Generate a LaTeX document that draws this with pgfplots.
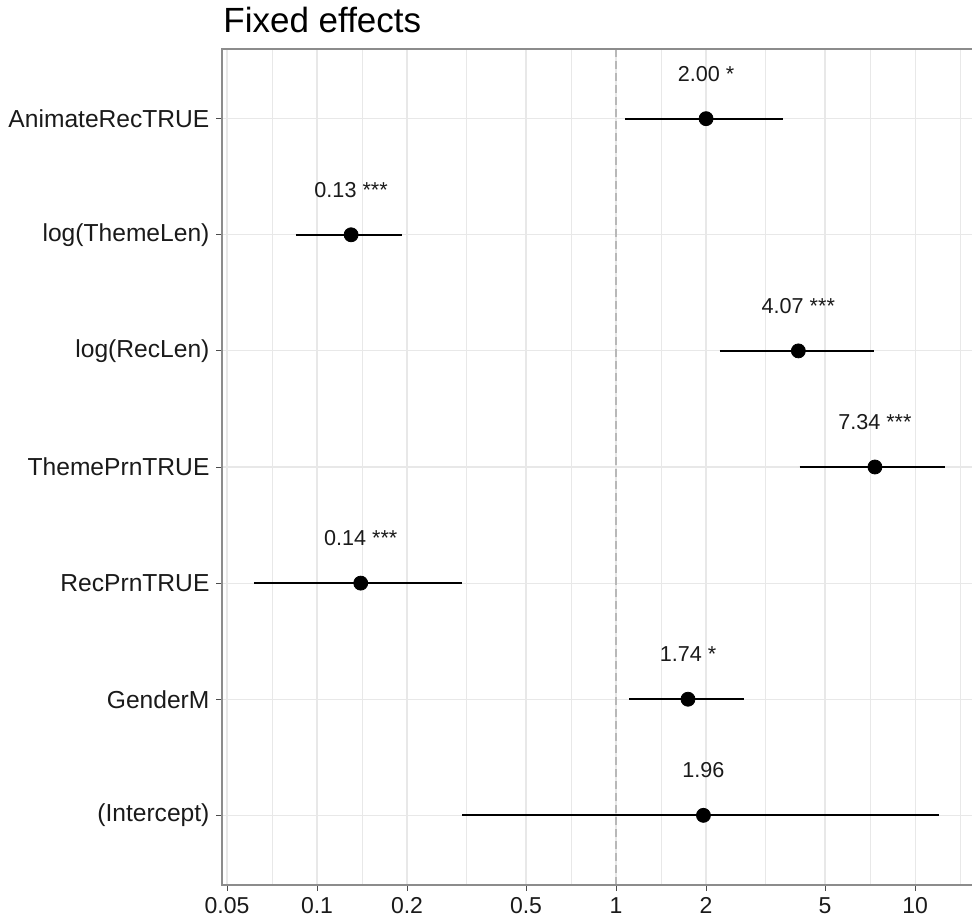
\documentclass[border=0pt]{standalone}
\usepackage{fontspec}
\setmainfont{Liberation Sans}
\usepackage{pgfplots}
\pgfplotsset{compat=1.18}
\definecolor{gridc}{HTML}{E8E8E8}
\definecolor{framec}{HTML}{8C8C8C}
\definecolor{refc}{HTML}{B8B8B8}
\definecolor{txt}{HTML}{1A1A1A}

\begin{document}
\begin{tikzpicture}
\useasboundingbox (-111pt,-18.5pt) rectangle (375pt,442.5pt);
\begin{axis}[
  at={(0,0)}, anchor=south west,
  scale only axis, width=375pt, height=418pt,
  xmode=log, xmin=0.0481, xmax=15.5,
  ymin=0.4, ymax=7.6,
  xtick={0.05,0.1,0.2,0.5,1,2,5,10},
  xticklabels={0.05,0.1,0.2,0.5,1,2,5,10},
  minor xtick={0.0707,0.1414,0.3162,0.7071,1.4142,3.1623,7.0711,14.142},
  ytick={1,2,3,4,5,6,7},
  yticklabels={(Intercept),GenderM,RecPrnTRUE,ThemePrnTRUE,log(RecLen),log(ThemeLen),AnimateRecTRUE},
  xtick pos=bottom, ytick pos=left,
  grid=both,
  major grid style={gridc, line width=0.6pt},
  minor grid style={gridc, line width=0.3pt},
  tick align=outside, major tick length=2.75pt, minor tick length=0pt,
  tick style={black!70, line width=0.5pt},
  axis line style={draw=none},
  xticklabel style={font=\fontsize{11.5}{13}\selectfont, text=txt},
  yticklabel style={font=\fontsize{12.3}{14}\selectfont, text=txt},
  /pgf/number format/assume math mode=true,
  clip=false,
]
% reference line at 1
\addplot[refc, line width=0.6pt, dash pattern=on 4pt off 2pt] coordinates {(1,0.4) (1,7.6)};

% confidence intervals
\addplot[black, line width=0.9pt] coordinates {(1.072,7) (3.63,7)};
\addplot[black, line width=0.9pt] coordinates {(0.085,6) (0.193,6)};
\addplot[black, line width=0.9pt] coordinates {(2.22,5) (7.28,5)};
\addplot[black, line width=0.9pt] coordinates {(4.11,4) (12.6,4)};
\addplot[black, line width=0.9pt] coordinates {(0.0615,3) (0.306,3)};
\addplot[black, line width=0.9pt] coordinates {(1.105,2) (2.67,2)};
\addplot[black, line width=0.9pt] coordinates {(0.306,1) (12.04,1)};

% estimates with labels
\addplot[only marks, mark=*, mark size=3.5pt, black,
  point meta=explicit symbolic, nodes near coords,
  nodes near coords style={anchor=center, yshift=22.5pt,
    font=\fontsize{10.8}{12}\selectfont, text=txt}]
  table[x=est, y=pos, meta=lab] {
est pos lab
2.00 7 {2.00 *}
0.13 6 {0.13 ***}
4.07 5 {4.07 ***}
7.34 4 {7.34 ***}
0.14 3 {0.14 ***}
1.74 2 {1.74 *}
1.96 1 {1.96}
};

% panel frame (right side cut off in the reference)
\draw[framec, line width=0.6pt] (rel axis cs:1,1) -- (rel axis cs:0,1) -- (rel axis cs:0,0) -- (rel axis cs:1,0);
\end{axis}
\node[anchor=base west, inner sep=0pt, font=\fontsize{17.5}{20}\selectfont] at (0.5pt,426pt) {Fixed effects};
\end{tikzpicture}
\end{document}
